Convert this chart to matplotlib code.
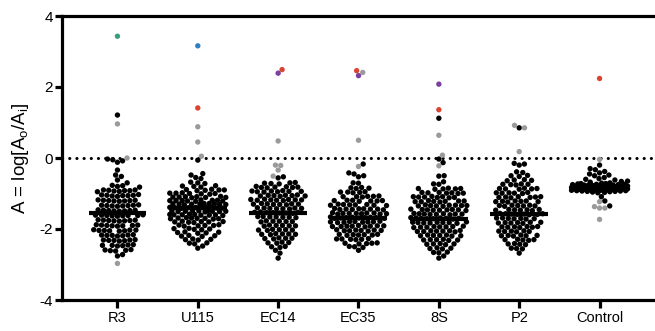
import numpy as np
import matplotlib
matplotlib.use("Agg")
import matplotlib.pyplot as plt

plt.rcParams['font.family'] = ['Liberation Sans', 'DejaVu Sans']
plt.rcParams['axes.unicode_minus'] = False
plt.rcParams['mathtext.default'] = 'regular'

categories = ["R3", "U115", "EC14", "EC35", "8S", "P2", "Control"]
medians = [-1.55, -1.42, -1.54, -1.68, -1.72, -1.58, -0.83]

R3_black = [1.21, -0.12, -0.05, -0.08, -0.03,
    -0.34, -0.48, -0.52, -0.62, -0.70,
    -0.78, -0.80, -0.77, -0.82,
    -0.90, -0.92, -0.93, -0.91, -0.94, -0.92, -0.90, -0.95,
    -1.05, -1.06, -1.04, -1.07, -1.05, -1.08, -1.06, -1.03,
    -1.19, -1.20, -1.21, -1.18, -1.22, -1.20, -1.19, -1.21,
    -1.33, -1.35, -1.34, -1.32, -1.36, -1.34, -1.33, -1.35,
    -1.47, -1.48, -1.49, -1.46, -1.50, -1.48, -1.47, -1.49,
    -1.61, -1.62, -1.63, -1.60, -1.64, -1.62, -1.61, -1.63, -1.62,
    -1.75, -1.76, -1.77, -1.74, -1.78, -1.76, -1.75, -1.77,
    -1.89, -1.90, -1.91, -1.88, -1.92, -1.90, -1.89, -1.91,
    -2.03, -2.04, -2.05, -2.02, -2.06, -2.04, -2.03, -2.05,
    -2.17, -2.18, -2.19, -2.16, -2.20, -2.18, -2.17,
    -2.31, -2.32, -2.33, -2.30, -2.34, -2.32, -2.31,
    -2.45, -2.46, -2.47, -2.44, -2.48, -2.46,
    -2.59, -2.60, -2.61, -2.58, -2.62,
    -2.72, -2.76]
R3_gray = [0.96, 0.0, -2.97]
R3_color = [(3.43, "#3a9e7e")]

U115_black = [-0.06,
    -0.44, -0.48, -0.55, -0.58, -0.68, -0.70, -0.72,
    -0.79, -0.80, -0.82, -0.78,
    -0.88, -0.90, -0.91, -0.89, -0.92, -0.90,
    -0.99, -1.00, -1.01, -0.98, -1.02, -1.00, -0.99,
    -1.09, -1.10, -1.11, -1.08, -1.12, -1.10, -1.09, -1.11,
    -1.19, -1.20, -1.21, -1.18, -1.22, -1.20, -1.19, -1.21, -1.20,
    -1.29, -1.30, -1.31, -1.28, -1.32, -1.30, -1.29, -1.31, -1.30, -1.28,
    -1.39, -1.40, -1.41, -1.38, -1.42, -1.40, -1.39, -1.41, -1.40, -1.38,
    -1.49, -1.50, -1.51, -1.48, -1.52, -1.50, -1.49, -1.51, -1.50, -1.48,
    -1.59, -1.60, -1.61, -1.58, -1.62, -1.60, -1.59, -1.61, -1.60,
    -1.69, -1.70, -1.71, -1.68, -1.72, -1.70, -1.69, -1.71,
    -1.79, -1.80, -1.81, -1.78, -1.82, -1.80, -1.79,
    -1.89, -1.90, -1.91, -1.88, -1.92, -1.90,
    -1.99, -2.00, -2.01, -1.98, -2.02,
    -2.09, -2.10, -2.11, -2.08, -2.12,
    -2.19, -2.20, -2.21, -2.18,
    -2.29, -2.30, -2.31, -2.28,
    -2.39, -2.40, -2.42,
    -2.48, -2.54]
U115_gray = [0.88, 0.45, 0.05]
U115_color = [(3.16, "#2f7fc1"), (1.41, "#d9452f")]

EC14_black = [-0.53, -0.56,
    -0.70, -0.72, -0.69, -0.71, -0.73,
    -0.82, -0.83, -0.81, -0.84, -0.82, -0.83, -0.80,
    -0.94, -0.95, -0.93, -0.96, -0.94, -0.95, -0.93, -0.92,
    -1.06, -1.07, -1.05, -1.08, -1.06, -1.07, -1.05, -1.04,
    -1.18, -1.19, -1.17, -1.20, -1.18, -1.19, -1.17, -1.16, -1.18,
    -1.30, -1.31, -1.29, -1.32, -1.30, -1.31, -1.29, -1.28,
    -1.42, -1.43, -1.41, -1.44, -1.42, -1.43, -1.41, -1.40,
    -1.54, -1.55, -1.53, -1.56, -1.54, -1.55, -1.53, -1.52,
    -1.66, -1.67, -1.65, -1.68, -1.66, -1.67, -1.65,
    -1.78, -1.79, -1.77, -1.80, -1.78, -1.79,
    -1.90, -1.91, -1.89, -1.92, -1.90, -1.91,
    -2.02, -2.03, -2.01, -2.04, -2.02, -2.03,
    -2.14, -2.15, -2.13, -2.16, -2.14, -2.15,
    -2.26, -2.27, -2.25, -2.28, -2.26,
    -2.38, -2.39, -2.37, -2.40,
    -2.50, -2.52, -2.49,
    -2.60, -2.68, -2.82]
EC14_gray = [0.48, -0.20, -0.21, -0.34, -0.51]
EC14_color = [(2.49, "#d9452f"), (2.39, "#7b3fa0")]

EC35_black = [-0.17, -0.42, -0.45, -0.50, -0.53, -0.70, -0.71,
    -0.84, -0.85, -0.86, -0.83,
    -0.96, -0.97, -0.95, -0.98, -0.96,
    -1.08, -1.09, -1.07, -1.10, -1.08, -1.09,
    -1.20, -1.21, -1.19, -1.22, -1.20, -1.21, -1.19,
    -1.32, -1.33, -1.31, -1.34, -1.32, -1.33, -1.31, -1.30,
    -1.44, -1.45, -1.43, -1.46, -1.44, -1.45, -1.43, -1.42, -1.44,
    -1.56, -1.57, -1.55, -1.58, -1.56, -1.57, -1.55, -1.54, -1.56, -1.58,
    -1.68, -1.69, -1.67, -1.70, -1.68, -1.69, -1.67, -1.66, -1.68, -1.70,
    -1.80, -1.81, -1.79, -1.82, -1.80, -1.81, -1.79, -1.78, -1.80,
    -1.92, -1.93, -1.91, -1.94, -1.92, -1.93, -1.91, -1.90, -1.92,
    -2.04, -2.05, -2.03, -2.06, -2.04, -2.05, -2.03, -2.02,
    -2.16, -2.17, -2.15, -2.18, -2.16, -2.17, -2.15,
    -2.28, -2.29, -2.27, -2.30, -2.28, -2.29,
    -2.40, -2.41, -2.39, -2.42, -2.40,
    -2.50, -2.52, -2.49,
    -2.60]
EC35_gray = [2.41, 0.50, -0.24]
EC35_color = [(2.46, "#d9452f"), (2.32, "#7b3fa0")]

S8_black = [1.12, -0.03, -0.13, -0.50, -0.51, -0.67, -0.73, -0.74,
    -0.86, -0.87, -0.85, -0.88, -0.86, -0.87,
    -0.98, -0.99, -0.97, -1.00, -0.98, -0.99, -0.97,
    -1.10, -1.11, -1.09, -1.12, -1.10, -1.11, -1.09, -1.08,
    -1.22, -1.23, -1.21, -1.24, -1.22, -1.23, -1.21, -1.20,
    -1.34, -1.35, -1.33, -1.36, -1.34, -1.35, -1.33, -1.32, -1.34,
    -1.46, -1.47, -1.45, -1.48, -1.46, -1.47, -1.45, -1.44, -1.46,
    -1.58, -1.59, -1.57, -1.60, -1.58, -1.59, -1.57, -1.56, -1.58,
    -1.70, -1.71, -1.69, -1.72, -1.70, -1.71, -1.69, -1.68, -1.70,
    -1.82, -1.83, -1.81, -1.84, -1.82, -1.83, -1.81, -1.80, -1.82,
    -1.94, -1.95, -1.93, -1.96, -1.94, -1.95, -1.93, -1.92,
    -2.06, -2.07, -2.05, -2.08, -2.06, -2.07, -2.05, -2.04,
    -2.18, -2.19, -2.17, -2.20, -2.18, -2.19, -2.17,
    -2.30, -2.31, -2.29, -2.32, -2.30, -2.31,
    -2.42, -2.43, -2.41, -2.44, -2.42,
    -2.54, -2.55, -2.53, -2.56,
    -2.66, -2.67, -2.65,
    -2.76, -2.82]
S8_gray = [0.64, 0.08, -0.22]
S8_color = [(2.08, "#7b3fa0"), (1.36, "#d9452f")]

P2_black = [0.85, -0.15, -0.17, -0.20,
    -0.39, -0.41,
    -0.50, -0.52, -0.49,
    -0.62, -0.63, -0.61, -0.64,
    -0.74, -0.75, -0.73, -0.76, -0.74,
    -0.86, -0.87, -0.85, -0.88, -0.86, -0.87,
    -0.98, -0.99, -0.97, -1.00, -0.98, -0.99,
    -1.10, -1.11, -1.09, -1.12, -1.10, -1.11, -1.09,
    -1.22, -1.23, -1.21, -1.24, -1.22, -1.23, -1.21,
    -1.34, -1.35, -1.33, -1.36, -1.34, -1.35, -1.33,
    -1.46, -1.47, -1.45, -1.48, -1.46, -1.47, -1.45,
    -1.58, -1.59, -1.57, -1.60, -1.58, -1.59, -1.57, -1.56,
    -1.70, -1.71, -1.69, -1.72, -1.70, -1.71, -1.69,
    -1.82, -1.83, -1.81, -1.84, -1.82, -1.83, -1.81,
    -1.94, -1.95, -1.93, -1.96, -1.94, -1.95, -1.93,
    -2.06, -2.07, -2.05, -2.08, -2.06, -2.07,
    -2.18, -2.19, -2.17, -2.20, -2.18, -2.19,
    -2.30, -2.31, -2.29, -2.32, -2.30,
    -2.42, -2.43, -2.41, -2.44,
    -2.54, -2.55, -2.56,
    -2.68]
P2_gray = [0.92, 0.85, 0.18]
P2_color = []

Control_black = [-0.20, -0.30, -0.33, -0.38, -0.42, -0.45, -0.48, -0.50, -0.55,
    -0.58, -0.60, -0.62, -0.65, -0.66, -0.68,
    -0.70, -0.71, -0.72, -0.72, -0.73, -0.74, -0.74, -0.75, -0.75, -0.76,
    -0.76, -0.77, -0.77, -0.78, -0.78, -0.79, -0.79, -0.80, -0.80, -0.80,
    -0.81, -0.81, -0.82, -0.82, -0.82, -0.83, -0.83, -0.83, -0.84, -0.84,
    -0.84, -0.85, -0.85, -0.85, -0.86, -0.86, -0.86, -0.87, -0.87, -0.87,
    -0.88, -0.88, -0.88, -0.89, -0.89, -0.90, -0.90, -0.90, -0.91, -0.91,
    -0.92, -0.92, -0.93, -0.93, -0.94, -0.94, -0.95, -0.96, -0.97, -0.98,
    -1.09, -1.21, -1.35]
Control_gray = [-0.04, -1.23, -1.41, -1.41, -1.37, -1.73]
Control_color = [(2.24, "#d9452f")]

groups = [
    (R3_black, R3_gray, R3_color),
    (U115_black, U115_gray, U115_color),
    (EC14_black, EC14_gray, EC14_color),
    (EC35_black, EC35_gray, EC35_color),
    (S8_black, S8_gray, S8_color),
    (P2_black, P2_gray, P2_color),
    (Control_black, Control_gray, Control_color),
]

GRAY = "#9a9a9a"
W_PX, H_PX = 655, 331
AX_L, AX_R, AX_B, AX_T = 62, 655, 31, 315
XLIM = (-0.69, 6.69)
YLIM = (-4, 4)
XPPU = (AX_R - AX_L) / (XLIM[1] - XLIM[0])
YPPU = (AX_T - AX_B) / (YLIM[1] - YLIM[0])


def swarm_offsets(vals, d=5.3, cap=28.0):
    vals = np.asarray(vals, dtype=float)
    order = np.argsort(vals, kind="stable")
    ys = vals * YPPU
    xs = np.zeros(len(vals))
    placed = []
    for i in order:
        y = ys[i]
        near = [(xj, yj) for (xj, yj) in placed if abs(yj - y) < d]
        intervals = []
        for xj, yj in near:
            w = np.sqrt(d * d - (yj - y) ** 2)
            intervals.append((xj - w, xj + w))
        cands = [0.0] + [a for a, b in intervals] + [b for a, b in intervals]
        cands = sorted(cands, key=lambda c: (abs(c), -c))
        chosen = None
        for c in cands:
            if abs(c) > cap:
                continue
            if all(not (a + 1e-9 < c < b - 1e-9) for a, b in intervals):
                chosen = c
                break
        if chosen is None:
            grid = np.linspace(-cap, cap, 55)
            def score(g):
                return min(np.hypot(g - xj, y - yj) for xj, yj in near)
            chosen = max(grid, key=score)
        xs[i] = chosen
        placed.append((chosen, y))
    return xs / XPPU


fig = plt.figure(figsize=(W_PX / 100, H_PX / 100), dpi=100)
ax = fig.add_axes([AX_L / W_PX, AX_B / H_PX, (AX_R - AX_L) / W_PX, (AX_T - AX_B) / H_PX])
ax.set_xlim(*XLIM)
ax.set_ylim(*YLIM)

ax.axhline(0, color="black", lw=2.2, linestyle=(0, (0.05, 2.3)),
           dash_capstyle="round", zorder=1)

for gi, (blk, gry, col) in enumerate(groups):
    vals = list(blk) + list(gry) + [v for v, c in col]
    cols = ["black"] * len(blk) + [GRAY] * len(gry) + [c for v, c in col]
    offs = swarm_offsets(vals)
    ax.scatter(gi + offs, vals, s=15, c=cols, linewidths=0, zorder=2)
    ax.plot([gi - 0.36, gi + 0.36], [medians[gi], medians[gi]], color="black",
            lw=3.0, solid_capstyle="butt", zorder=3)

ax.set_xticks(range(len(categories)))
ax.set_xticklabels(categories)
ax.set_yticks([-4, -2, 0, 2, 4])
ax.set_yticklabels(["-4", "-2", "0", "2", "4"])

for side in ["left", "bottom", "top"]:
    ax.spines[side].set_linewidth(2.3)
    ax.spines[side].set_color("black")
ax.spines["right"].set_visible(False)

ax.tick_params(axis="y", direction="out", length=5, width=2.3, labelsize=11, pad=1.5)
ax.tick_params(axis="x", direction="out", length=5.5, width=2.3, labelsize=10.5, pad=2.5)
ax.tick_params(top=False, right=False)

ax.set_ylabel("A = log[A$_{o}$/A$_{i}$]", fontsize=13.5)
ax.yaxis.set_label_coords((31 - AX_L) / (AX_R - AX_L), 0.5)

fig.savefig("out.png", dpi=100)
